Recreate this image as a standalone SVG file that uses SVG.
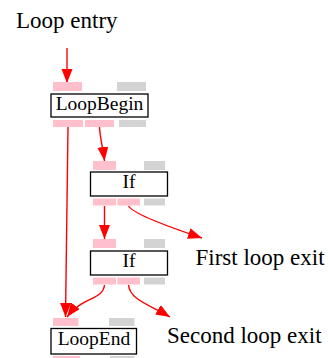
<svg xmlns="http://www.w3.org/2000/svg" width="328" height="358" viewBox="0 0 328 358">
<defs>
<style>
.lbl{font-family:"Liberation Serif","Times New Roman",serif;font-size:23px;fill:#000}
.nl{font-family:"Liberation Serif","Times New Roman",serif;font-size:19.5px;fill:#000;text-anchor:middle}
.box{fill:#fff;stroke:#000;stroke-width:1.3}
.pp{fill:#ffc0cb}
.gp{fill:#d3d3d3}
.e{fill:none;stroke:#ff0000;stroke-width:1.4}
</style>
<marker id="ah" markerUnits="userSpaceOnUse" markerWidth="16" markerHeight="12" refX="14" refY="5.5" orient="auto">
<path d="M0,0 L14,5.5 L0,11 Z" fill="#ff0000"/>
</marker>
</defs>
<text class="lbl" x="16" y="28">Loop entry</text>
<text class="lbl" x="195.5" y="265">First loop exit</text>
<text class="lbl" x="167" y="343">Second loop exit</text>
<g id="connectors">
<path class="e" d="M67,48 L67,83" marker-end="url(#ah)"/>
<path class="e" d="M68,127 C67,200 66,260 65.5,317" marker-end="url(#ah)"/>
<path class="e" d="M99.5,127 C100,138 103,148 104.5,161" marker-end="url(#ah)"/>
<path class="e" d="M104.5,206 L104.5,239" marker-end="url(#ah)"/>
<path class="e" d="M128.5,206 C132,212 160,224 202,238" marker-end="url(#ah)"/>
<path class="e" d="M104.5,285 C103,300 82,297 67,317" marker-end="url(#ah)"/>
<path class="e" d="M128.5,285 C130,300 150,305 170,317" marker-end="url(#ah)"/>
</g>
<g id="LoopBegin">
<rect class="pp" x="53" y="82" width="29" height="9"/>
<rect class="gp" x="117" y="82" width="29" height="9"/>
<rect class="box" x="51" y="94" width="97" height="23"/>
<text class="nl" x="99.5" y="109.5">LoopBegin</text>
<rect class="pp" x="53" y="120" width="30" height="7"/>
<rect class="pp" x="85" y="120" width="29" height="7"/>
<rect class="gp" x="119" y="120" width="27" height="7"/>
</g>
<g id="If1">
<rect class="pp" x="93" y="161" width="23" height="9"/>
<rect class="gp" x="144" y="161" width="21" height="9"/>
<rect class="box" x="90.5" y="172" width="77" height="24"/>
<text class="nl" x="129" y="188">If</text>
<rect class="pp" x="93" y="198.5" width="23" height="7"/>
<rect class="pp" x="117.5" y="198.5" width="22.5" height="7"/>
<rect class="gp" x="144" y="198.5" width="21" height="7"/>
</g>
<g id="If2">
<rect class="pp" x="93" y="239" width="23" height="9"/>
<rect class="gp" x="144" y="239" width="21" height="9"/>
<rect class="box" x="90.5" y="251" width="77" height="24"/>
<text class="nl" x="129" y="266.5">If</text>
<rect class="pp" x="93" y="277.5" width="23" height="7"/>
<rect class="pp" x="117.5" y="277.5" width="22.5" height="7"/>
<rect class="gp" x="144" y="277.5" width="21" height="7"/>
</g>
<g id="LoopEnd">
<rect class="pp" x="53" y="318" width="25.5" height="8"/>
<rect class="gp" x="109" y="318" width="25.5" height="8"/>
<rect class="box" x="51" y="328.5" width="85.5" height="25.5"/>
<text class="nl" x="94" y="344.5">LoopEnd</text>
<rect class="pp" x="53" y="356" width="27" height="4"/>
<rect class="gp" x="110" y="356" width="24.5" height="4"/>
</g>
</svg>
